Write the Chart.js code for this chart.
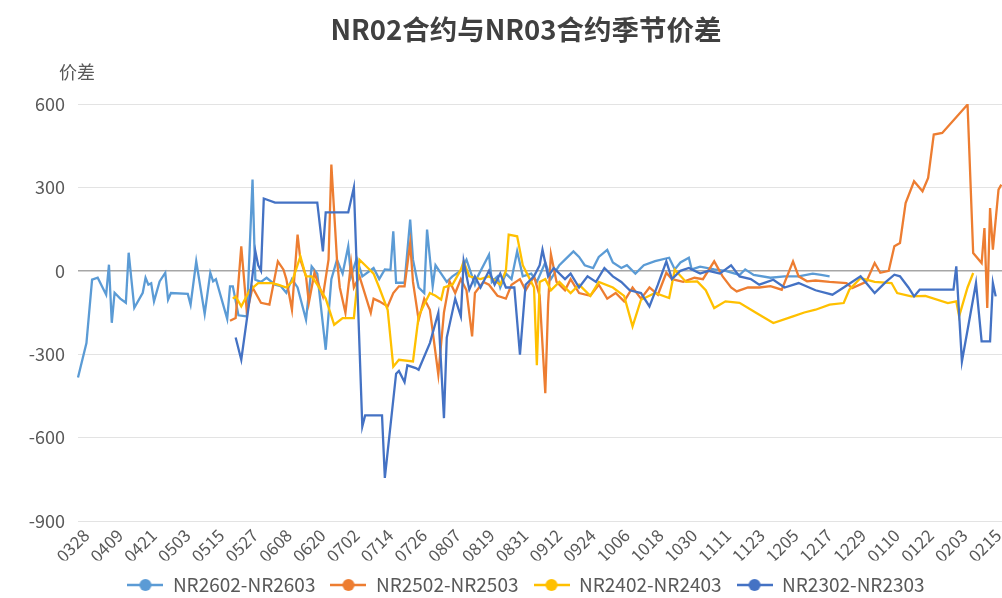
<!DOCTYPE html>
<html><head><meta charset="utf-8">
<script src="https://cdn.jsdelivr.net/npm/chart.js@4.4.1/dist/chart.umd.min.js"></script>
<style>
html,body{margin:0;padding:0;background:#fff;overflow:hidden;width:1002px;height:598px;}
#wrap{position:relative;width:1054px;height:598px;}
</style></head><body>
<div id="wrap"><canvas id="c" width="1054" height="598"></canvas></div>
<script>
const titleText = 'NR02合约与NR03合约季节价差';
const yAxisTitle = '价差';
const seriesNames = ['NR2602-NR2603', 'NR2502-NR2503', 'NR2402-NR2403', 'NR2302-NR2303'];
const seriesColors = ['#5B9BD5', '#ED7D31', '#FFC000', '#4472C4'];
const yMin = -900, yMax = 600, yStep = 300;
const labelEvery = 12;
const lastLabel = '0215';

// [date (MMDD), spread]
const nr2602 = [
['0328',-384],['0331',-260],['0402',-32],['0404',-25],['0407',-86],['0408',22],['0409',-187],['0410',-79],
['0412',-100],['0414',-115],['0415',65],['0417',-133],['0420',-79],['0421',-25],['0422',-50],['0423',-45],
['0424',-110],['0426',-38],['0428',-7],['0429',-104],['0430',-80],['0506',-83],['0507',-122],['0509',34],
['0512',-155],['0514',-7],['0515',-38],['0516',-30],['0520',-173],['0521',-56],['0522',-56],['0524',-160],
['0527',-164],['0529',328],['0530',-32],['0601',-40],['0603',-25],['0606',-50],['0608',-55],['0610',-79],
['0612',-30],['0614',-60],['0617',-176],['0619',16],['0621',-10],['0624',-284],['0626',-30],['0628',40],
['0630',-10],['0702',88],['0703',-20],['0705',45],['0707',-20],['0711',10],['0713',-30],['0715',5],
['0717',3],['0718',142],['0719',-43],['0722',-43],['0724',184],['0725',40],['0727',-60],['0729',-80],
['0730',148],['0801',-56],['0802',20],['0804',-10],['0806',-40],['0808',-20],['0811',0],['0813',40],
['0816',-50],['0817',-20],['0821',58],['0822',-40],['0824',-20],['0825',-60],['0827',-10],['0829',-30],
['0831',70],['0902',-20],['0905',-10],['0907',-40],['0910',30],['0912',-30],['0915',20],['0917',40],
['0920',70],['0922',50],['0924',20],['0927',10],['0929',50],['1002',75],['1004',30],['1007',10],
['1009',20],['1012',-10],['1015',20],['1019',35],['1024',47],['1026',5],['1028',30],['1031',47],
['1101',5],['1104',15],['1109',5],['1113',0],['1118',-15],['1120',5],['1123',-15],['1129',-25],
['1204',-20],['1209',-20],['1214',-10],['1217',-15],['1220',-20]
];
const nr2502 = [
['0521',-180],['0523',-170],['0525',88],['0527',-151],['0529',-60],['0601',-115],['0604',-122],['0607',34],
['0609',4],['0610',-30],['0612',-140],['0614',130],['0615',40],['0617',-20],['0618',-115],['0620',-7],
['0623',-92],['0625',40],['0626',382],['0628',40],['0629',-60],['0701',-151],['0703',29],['0704',-60],
['0706',-20],['0710',-151],['0711',-100],['0713',-110],['0716',-128],['0718',-80],['0720',-56],['0722',-56],
['0724',100],['0725',-40],['0727',-176],['0729',-100],['0731',-140],['0803',-374],['0805',-150],['0807',-38],
['0809',-80],['0811',-30],['0813',-70],['0815',-236],['0816',-80],['0819',-40],['0821',-50],['0824',-90],
['0827',-100],['0829',-50],['0901',-30],['0903',-70],['0906',-20],['0908',-90],['0910',-440],['0911',-120],
['0912',60],['0914',-40],['0917',-70],['0919',-30],['0922',-80],['0926',-90],['0929',-50],['1002',-100],
['1005',-80],['1008',-110],['1011',-60],['1014',-100],['1017',-60],['1020',-86],['1023',-7],['1025',-30],
['1029',-40],['1102',-25],['1105',-30],['1109',34],['1112',-20],['1115',-60],['1117',-74],['1121',-60],
['1125',-60],['1129',-55],['1203',-68],['1207',34],['1209',-20],['1212',-38],['1215',-35],['1220',-40],
['1226',-44],['1228',-62],['0102',-40],['0105',28],['0107',-7],['0110',0],['0112',88],['0114',100],
['0116',244],['0119',322],['0122',286],['0124',334],['0126',490],['0129',496],['0207',598],['0209',64],
['0212',28],['0213',154],['0214',-134],['0215',226],['0216',76],['0218',292],['0219',310]
];
const nr2402 = [
['0522',-100],['0523',-92],['0525',-128],['0528',-70],['0531',-44],['0605',-44],['0607',-50],['0610',-60],
['0612',-40],['0615',52],['0617',-20],['0619',-20],['0621',-50],['0624',-100],['0627',-194],['0630',-170],
['0704',-170],['0706',40],['0709',10],['0711',-10],['0713',-60],['0716',-140],['0718',-345],['0720',-320],
['0725',-326],['0727',-164],['0729',-120],['0731',-80],['0802',-90],['0804',-104],['0805',-60],['0808',-50],
['0811',4],['0812',34],['0814',-20],['0818',-30],['0821',-20],['0825',-50],['0827',0],['0828',130],
['0831',124],['0902',20],['0904',-20],['0906',-60],['0907',-340],['0908',-40],['0910',-30],['0912',-70],
['0915',-40],['0919',-80],['0922',-50],['0926',-90],['0929',-40],['1004',-60],['1008',-90],['1011',-200],
['1014',-104],['1019',-80],['1024',-98],['1026',4],['1030',-40],['1103',-38],['1106',-70],['1109',-134],
['1113',-110],['1118',-115],['1124',-152],['1130',-188],['1207',-164],['1211',-150],['1215',-140],['1220',-122],
['1225',-116],['1227',-68],['1231',-26],['0105',-40],['0111',-44],['0113',-80],['0118',-92],['0123',-90],
['0131',-116],['0203',-110],['0204',-164],['0207',-60],['0209',-8]
];
const nr2302 = [
['0523',-240],['0525',-320],['0528',-100],['0530',70],['0531',20],['0601',0],['0602',260],['0606',245],
['0621',245],['0623',70],['0624',210],['0702',210],['0704',300],['0707',-560],['0708',-520],['0714',-520],
['0715',-745],['0719',-370],['0720',-360],['0722',-400],['0723',-340],['0726',-350],['0727',-356],['0731',-260],
['0803',-151],['0805',-530],['0806',-240],['0809',-100],['0811',-164],['0812',34],['0814',-68],['0816',-20],
['0818',-60],['0821',0],['0823',-50],['0825',-10],['0827',-60],['0830',-60],['0901',-302],['0903',-50],
['0906',-20],['0908',20],['0909',76],['0911',-20],['0913',10],['0917',-30],['0919',-10],['0922',-60],
['0925',-20],['0928',-40],['1001',10],['1004',-20],['1007',-40],['1010',-70],['1014',-80],['1017',-128],
['1020',-50],['1023',34],['1025',-30],['1028',0],['1031',10],['1104',-10],['1107',0],['1111',-10],
['1115',20],['1118',-20],['1122',-30],['1125',-50],['1130',-32],['1204',-60],['1209',-44],['1215',-70],
['1221',-86],['1225',-60],['1231',-20],['0105',-80],['0109',-40],['0112',-14],['0114',-20],['0117',-60],
['0119',-92],['0121',-68],['0202',-68],['0203',16],['0205',-326],['0210',-44],['0212',-254],['0215',-254],
['0216',-44],['0217',-92]
];
const seriesData = [nr2602, nr2502, nr2402, nr2302];

// calendar-day categories, 0328 .. 0309
const categories = [];
for (let d = new Date(2025, 2, 28); d <= new Date(2026, 2, 9); d.setDate(d.getDate() + 1)) {
  categories.push(String(d.getMonth() + 1).padStart(2, '0') + String(d.getDate()).padStart(2, '0'));
}
const lastLabelIndex = categories.indexOf(lastLabel);

const FONT = '"Noto Sans CJK SC", "Noto Sans", sans-serif';
const TXT = '#595959';

function makeMarker(color) {
  const c = document.createElement('canvas');
  c.width = 36; c.height = 14;
  const g = c.getContext('2d');
  g.strokeStyle = color; g.lineWidth = 2.5;
  g.beginPath(); g.moveTo(0, 7); g.lineTo(36, 7); g.stroke();
  g.fillStyle = color;
  g.beginPath(); g.arc(18, 7, 6, 0, Math.PI * 2); g.fill();
  return c;
}
const markers = seriesColors.map(makeMarker);

const yTitlePlugin = {
  id: 'yTitle',
  afterDraw(chart) {
    const ctx = chart.ctx;
    ctx.save();
    ctx.font = '18px ' + FONT;
    ctx.fillStyle = TXT;
    ctx.textAlign = 'center';
    ctx.textBaseline = 'middle';
    ctx.fillText(yAxisTitle, 77, 72);
    ctx.restore();
  }
};

new Chart(document.getElementById('c'), {
  type: 'line',
  data: {
    labels: categories,
    datasets: seriesData.map((s, i) => ({
      label: seriesNames[i],
      data: s.map(([x, y]) => ({ x, y })),
      borderColor: seriesColors[i],
      backgroundColor: seriesColors[i],
      borderWidth: 2.3,
      pointRadius: 0,
      tension: 0,
      fill: false,
      order: 3 - i
    }))
  },
  options: {
    responsive: false,
    animation: false,
    devicePixelRatio: 1,
    layout: { padding: { left: 0, right: 2, top: 0, bottom: -6.5 } },
    plugins: {
      title: {
        display: true, text: titleText, color: '#404040',
        font: { family: FONT, size: 27.5, weight: 'bold' },
        padding: { top: 13, bottom: 58 }
      },
      legend: {
        position: 'bottom',
        labels: {
          usePointStyle: true, pointStyleWidth: 36, boxHeight: 19,
          padding: 15, color: TXT,
          font: { family: FONT, size: 19 },
          sort: (a, b) => a.datasetIndex - b.datasetIndex,
          generateLabels(chart) {
            const items = Chart.defaults.plugins.legend.labels.generateLabels(chart);
            items.forEach(it => { it.pointStyle = markers[it.datasetIndex]; });
            return items;
          }
        }
      },
      tooltip: { enabled: false }
    },
    scales: {
      x: {
        type: 'category',
        grid: { display: false, drawTicks: false },
        border: { display: false },
        afterBuildTicks(axis) {
          axis.ticks = axis.ticks.filter(t => t.value % labelEvery === 0 && t.value <= lastLabelIndex);
        },
        afterFit(axis) { axis.height = 39.5; },
        ticks: {
          autoSkip: false, minRotation: 45, maxRotation: 45, padding: 4, labelOffset: 8,
          color: TXT, font: { family: FONT, size: 17 },
          callback(v) { return categories[v]; }
        }
      },
      y: {
        min: yMin, max: yMax,
        afterFit(axis) { axis.width = 78; },
        border: { display: false },
        grid: {
          drawTicks: false,
          color: ctx => ctx.tick && ctx.tick.value === 0 ? '#a6a6a6' : '#e3e3e3',
          lineWidth: ctx => ctx.tick && ctx.tick.value === 0 ? 1.5 : 1
        },
        ticks: { stepSize: yStep, padding: 13, color: TXT, font: { family: FONT, size: 18 } }
      }
    }
  },
  plugins: [yTitlePlugin]
});
</script>
</body></html>
